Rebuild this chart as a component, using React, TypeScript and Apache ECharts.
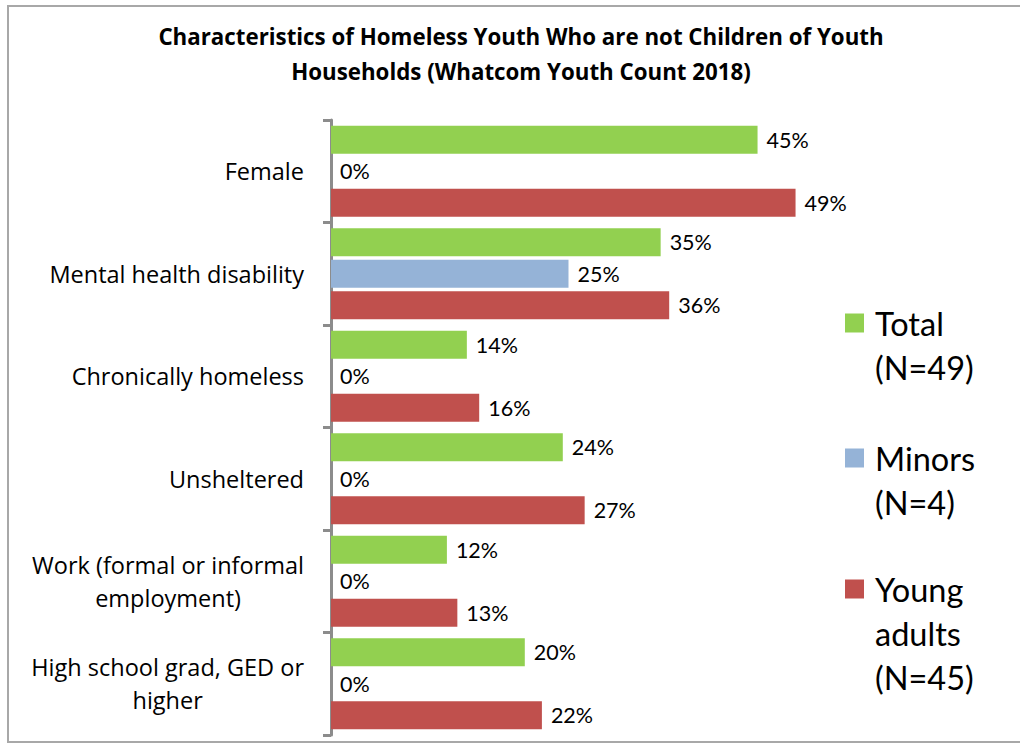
import React, { useEffect, useRef } from "react";
import * as echarts from "echarts";

const categories = [
  "Female",
  "Mental health disability",
  "Chronically homeless",
  "Unsheltered",
  "Work (formal or informal\nemployment)",
  "High school grad, GED or\nhigher",
];
const totalValues = [44.9, 34.7, 14.3, 24.4, 12.2, 20.4];
const minorsValues = [0, 25, 0, 0, 0, 0];
const youngAdultValues = [48.9, 35.6, 15.6, 26.7, 13.3, 22.2];
const seriesNames = ["Total\n(N=49)", "Minors\n(N=4)", "Young\nadults\n(N=45)"];
const seriesColors = ["#92D050", "#95B3D7", "#C0504D"];
const titleText =
  "Characteristics of Homeless Youth Who are not Children of Youth\nHouseholds (Whatcom Youth Count 2018)";

const LATO = "Lato, 'Open Sans', sans-serif";
const OPEN = "'Open Sans', Lato, sans-serif";

export default function App() {
  const ref = useRef<HTMLDivElement>(null);
  useEffect(() => {
    if (!ref.current) return;
    const chart = echarts.init(ref.current, undefined, { renderer: "svg" });
    const values = [totalValues, minorsValues, youngAdultValues];
    const legendTops = [257, 392, 479];
    chart.setOption({
      animation: false,
      backgroundColor: "#ffffff",
      title: {
        text: titleText,
        left: 521,
        textAlign: "center",
        top: 19,
        padding: 0,
        textStyle: {
          fontFamily: OPEN,
          fontSize: 22.3,
          fontWeight: "bold",
          lineHeight: 35,
          color: "#000",
        },
      },
      graphic: [
        {
          type: "rect",
          shape: { x: 8, y: 6, width: 1040, height: 736 },
          style: { fill: "none", stroke: "#a8a8a8", lineWidth: 2 },
          silent: true,
        },
      ],
      legend: seriesNames.map((name, i) => ({
        data: [name],
        orient: "vertical",
        left: 845,
        top: legendTops[i],
        padding: 0,
        itemWidth: 19,
        itemHeight: 19,
        selectedMode: false,
        icon: "rect",
        formatter: (n: string) => {
          const lines = n.split("\n");
          const pad = new Array(lines.length - 1).fill("\u00a0");
          return [...pad, ...lines].join("\n");
        },
        textStyle: {
          fontFamily: LATO,
          fontSize: 32.5,
          lineHeight: 44,
          color: "#000",
          padding: [0, 0, 0, 6],
        },
      })),
      grid: { left: 331, right: 214, top: 120, bottom: 10, containLabel: false },
      xAxis: {
        type: "value",
        min: 0,
        max: 50,
        show: false,
        splitLine: { show: false },
      },
      yAxis: {
        type: "category",
        data: categories,
        inverse: true,
        offset: 1,
        axisLine: { show: true, lineStyle: { color: "#8c8c8c", width: 3 } },
        axisTick: { show: true, length: 8, lineStyle: { color: "#8c8c8c", width: 3 } },
        axisLabel: {
          margin: 26,
          color: "#000",
          fontFamily: OPEN,
          fontSize: 23.5,
          lineHeight: 33,
          formatter: (v: string) =>
            v
              .split("\n")
              .map((l) => `{c|${l}}`)
              .join("\n"),
          rich: {
            c: {
              align: "center",
              fontFamily: OPEN,
              fontSize: 23.5,
              lineHeight: 33,
              color: "#000",
            },
          },
        },
      },
      series: seriesNames.map((name, i) => ({
        name,
        type: "bar",
        data: values[i],
        barWidth: 28,
        barGap: "12.5%",
        itemStyle: { color: seriesColors[i] },
        label: {
          show: true,
          position: "right",
          distance: 9,
          fontFamily: LATO,
          fontSize: 21.5,
          color: "#000",
          formatter: (p: any) => `${Math.round(p.value)}%`,
        },
      })),
    });
    return () => chart.dispose();
  }, []);
  return (
    <div
      ref={ref}
      style={{ position: "absolute", left: 0, top: 0, width: 1020, height: 745 }}
    />
  );
}
